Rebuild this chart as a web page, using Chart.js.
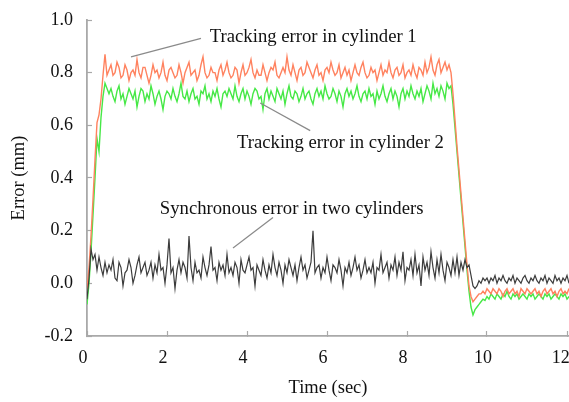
<!DOCTYPE html>
<html>
<head>
<meta charset="utf-8">
<script src="https://cdn.jsdelivr.net/npm/chart.js@4"></script>
<style>
html,body{margin:0;padding:0;background:#fff;overflow:hidden;}
canvas{display:block;}
</style>
</head>
<body>
<canvas id="c" width="569" height="402"></canvas>
<script>
// sampling interval of the recorded signals (s)
const sampleStep = 0.05;
const xTicks = [0, 2, 4, 6, 8, 10, 12];
const yTicks = [-0.2, 0.0, 0.2, 0.4, 0.6, 0.8, 1.0];

// Tracking error in cylinder 1 (mm)
const cyl1 = [
-0.02,0.06,0.18,0.32,0.47,0.61,0.64,0.70,0.79,0.87,0.79,
0.81,0.83,0.79,0.80,0.84,0.82,0.78,0.79,0.83,0.81,
0.77,0.80,0.81,0.79,0.85,0.80,0.78,0.82,0.82,0.79,
0.76,0.79,0.83,0.80,0.81,0.78,0.80,0.84,0.79,0.77,
0.81,0.82,0.80,0.78,0.79,0.83,0.80,0.76,0.80,0.82,
0.84,0.79,0.80,0.81,0.77,0.79,0.83,0.86,0.80,0.78,
0.79,0.82,0.80,0.80,0.77,0.81,0.83,0.79,0.81,0.84,
0.80,0.78,0.79,0.82,0.81,0.76,0.80,0.83,0.79,0.80,
0.82,0.85,0.80,0.78,0.81,0.79,0.79,0.83,0.80,0.77,
0.80,0.82,0.81,0.84,0.79,0.78,0.80,0.82,0.80,0.86,
0.81,0.79,0.83,0.80,0.77,0.81,0.82,0.79,0.80,0.84,
0.82,0.80,0.78,0.81,0.83,0.79,0.80,0.77,0.81,0.82,
0.80,0.84,0.81,0.79,0.80,0.83,0.78,0.80,0.82,0.79,
0.81,0.77,0.80,0.83,0.80,0.79,0.82,0.84,0.80,0.78,
0.79,0.82,0.80,0.81,0.77,0.80,0.83,0.79,0.81,0.80,
0.84,0.80,0.78,0.81,0.82,0.79,0.80,0.83,0.78,0.80,
0.81,0.79,0.83,0.80,0.78,0.82,0.81,0.79,0.84,0.80,
0.82,0.86,0.81,0.79,0.83,0.85,0.80,0.82,0.84,0.81,0.83,0.80,
0.72,0.62,0.52,0.43,0.34,0.25,0.16,0.07,-0.01,-0.05,-0.07,-0.06,-0.05,-0.04,-0.04,-0.03,-0.04,-0.02,
-0.03,-0.04,-0.02,-0.03,-0.04,-0.02,-0.03,-0.05,-0.03,-0.02,
-0.04,-0.03,-0.02,-0.04,-0.03,-0.05,-0.02,-0.03,-0.04,-0.02,
-0.03,-0.04,-0.03,-0.02,-0.04,-0.03,-0.05,-0.03,-0.02,-0.04,
-0.03,-0.02,-0.04,-0.03,-0.05,-0.03,-0.02,-0.04,-0.03,-0.04,-0.02,-0.03
];

// Tracking error in cylinder 2 (mm)
const cyl2 = [
-0.08,0.00,0.12,0.26,0.40,0.55,0.50,0.63,0.71,0.76,0.74,
0.72,0.74,0.71,0.69,0.73,0.75,0.70,0.72,0.68,0.71,
0.74,0.72,0.70,0.73,0.67,0.71,0.74,0.73,0.69,0.72,
0.70,0.75,0.72,0.68,0.71,0.73,0.70,0.66,0.71,0.73,
0.72,0.70,0.74,0.71,0.69,0.72,0.76,0.71,0.70,0.73,
0.69,0.72,0.74,0.70,0.71,0.68,0.73,0.72,0.75,0.70,
0.72,0.69,0.73,0.71,0.74,0.70,0.67,0.72,0.73,0.71,
0.74,0.72,0.70,0.75,0.71,0.69,0.72,0.74,0.70,0.73,
0.71,0.68,0.72,0.74,0.73,0.70,0.71,0.66,0.72,0.74,
0.70,0.73,0.71,0.69,0.74,0.72,0.70,0.73,0.68,0.72,
0.75,0.71,0.70,0.73,0.72,0.69,0.71,0.74,0.70,0.72,
0.73,0.70,0.68,0.72,0.74,0.71,0.73,0.70,0.75,0.72,
0.70,0.71,0.74,0.72,0.69,0.73,0.71,0.67,0.72,0.74,
0.71,0.73,0.70,0.72,0.75,0.71,0.69,0.72,0.73,0.70,
0.74,0.71,0.72,0.68,0.73,0.70,0.72,0.75,0.71,0.69,
0.72,0.74,0.70,0.73,0.71,0.67,0.72,0.74,0.70,0.73,
0.71,0.75,0.72,0.70,0.73,0.71,0.74,0.69,0.72,0.75,
0.73,0.70,0.76,0.72,0.74,0.71,0.75,0.73,0.70,0.76,0.74,0.75,
0.68,0.59,0.50,0.41,0.32,0.23,0.14,0.05,-0.03,-0.09,-0.12,-0.10,-0.09,-0.08,-0.07,-0.06,-0.065,-0.05,
-0.06,-0.04,-0.05,-0.06,-0.04,-0.05,-0.06,-0.04,-0.05,-0.03,
-0.05,-0.06,-0.04,-0.05,-0.04,-0.06,-0.05,-0.04,-0.05,-0.06,
-0.04,-0.05,-0.04,-0.06,-0.05,-0.04,-0.05,-0.06,-0.04,-0.05,
-0.04,-0.06,-0.05,-0.04,-0.05,-0.06,-0.04,-0.05,-0.04,-0.06,-0.05,-0.04
];

// Synchronous error in two cylinders (mm)
const syncErr = [
-0.06,0.02,0.13,0.09,0.11,0.05,0.10,0.06,0.03,0.08,0.04,
0.07,0.05,0.09,0.02,0.01,0.08,0.06,-0.01,0.04,0.05,
0.09,0.06,0.00,0.03,0.07,0.10,0.04,0.06,0.08,0.03,
0.05,0.08,0.02,0.07,0.04,0.11,0.05,0.06,0.00,0.07,
0.17,0.04,0.06,-0.02,0.05,0.09,0.04,0.08,0.06,0.02,
0.18,0.06,0.01,0.08,0.04,0.05,0.02,0.10,0.06,0.03,
0.07,0.14,0.05,0.06,0.01,0.08,0.05,0.07,0.03,0.11,
0.04,0.06,0.03,0.08,0.06,0.00,0.09,0.05,0.04,0.07,
0.10,0.05,0.06,-0.01,0.07,0.05,0.03,0.09,0.05,0.02,
0.07,0.04,0.11,0.06,0.03,0.08,0.05,0.00,0.07,0.04,
0.09,0.06,0.03,0.07,0.01,0.06,0.10,0.05,0.07,0.02,
0.05,0.08,0.20,0.04,0.06,0.07,0.02,0.06,0.04,0.10,
0.05,0.01,0.07,0.06,0.04,0.09,0.05,-0.01,0.06,0.04,
0.08,0.03,0.06,0.10,0.05,0.07,0.02,0.05,0.09,0.04,
0.06,0.04,0.08,0.00,0.06,0.05,0.11,0.04,0.06,0.08,
0.02,0.07,0.05,0.10,0.03,0.08,0.05,0.12,0.01,0.06,
0.05,0.09,0.03,0.11,0.04,0.07,-0.01,0.10,0.05,0.08,
0.03,0.12,0.06,0.02,0.09,0.04,0.11,0.05,0.01,0.08,0.06,0.03,
0.09,0.04,0.10,0.03,0.08,0.05,0.09,0.06,0.07,0.03,-0.01,-0.02,-0.01,0.01,0.00,0.02,0.01,0.02,
0.00,0.02,0.01,0.03,0.00,0.02,0.01,0.03,0.01,0.00,
0.02,0.01,0.03,0.00,0.02,0.01,0.00,0.02,0.03,0.01,
0.00,0.02,0.01,0.03,0.01,0.00,0.02,0.01,0.03,0.00,
0.02,0.01,0.00,0.03,0.01,0.02,0.00,0.02,0.01,0.03,0.00,0.01
];

// annotation texts with anchors in data units
const notes = [
  {text:'Tracking error in cylinder 1', at:[3.07, 0.915], from:[1.1, 0.86], to:[2.85, 0.93]},
  {text:'Tracking error in cylinder 2', at:[3.75, 0.515], from:[4.33, 0.685], to:[5.58, 0.58]},
  {text:'Synchronous error in two cylinders', at:[1.82, 0.265], from:[3.65, 0.134], to:[4.65, 0.25]}
];

const toPts = arr => arr.map((v, i) => ({x: +(i * sampleStep).toFixed(2), y: v}));

const serif = 'Liberation Serif, Times New Roman, serif';
const textColor = '#111';
const axisGray = '#a9a9a9';

const notesPlugin = {
  id: 'notes',
  afterDatasetsDraw(chart) {
    const {ctx, scales: {x, y}} = chart;
    ctx.save();
    ctx.strokeStyle = '#8a8a8a';
    ctx.lineWidth = 1.2;
    ctx.fillStyle = textColor;
    ctx.font = '18.7px ' + serif;
    ctx.textAlign = 'left';
    ctx.textBaseline = 'alphabetic';
    notes.forEach(n => {
      ctx.beginPath();
      ctx.moveTo(x.getPixelForValue(n.from[0]), y.getPixelForValue(n.from[1]));
      ctx.lineTo(x.getPixelForValue(n.to[0]), y.getPixelForValue(n.to[1]));
      ctx.stroke();
      ctx.fillText(n.text, x.getPixelForValue(n.at[0]), y.getPixelForValue(n.at[1]));
    });
    ctx.restore();
  }
};

new Chart(document.getElementById('c'), {
  type: 'line',
  data: {
    datasets: [
      {label: 'Synchronous error in two cylinders', data: toPts(syncErr), borderColor: '#3c3c3c', borderWidth: 1.2},
      {label: 'Tracking error in cylinder 1', data: toPts(cyl1), borderColor: '#ff825f', borderWidth: 1.4},
      {label: 'Tracking error in cylinder 2', data: toPts(cyl2), borderColor: '#46e846', borderWidth: 1.4}
    ]
  },
  options: {
    responsive: false,
    animation: false,
    elements: {point: {radius: 0}, line: {tension: 0}},
    layout: {autoPadding: false, padding: {top: 20, right: 0, bottom: 0, left: 0}},
    plugins: {legend: {display: false}, tooltip: {enabled: false}},
    scales: {
      x: {
        type: 'linear', min: 0, max: 12.05,
        afterFit(s) { s.height = 66; s.paddingLeft = 0; s.paddingRight = 0; },
        afterBuildTicks(s) { s.ticks = xTicks.map(v => ({value: v})); },
        ticks: {font: {family: serif, size: 18}, color: textColor, padding: 16, labelOffset: -4,
                callback: v => (v === 12 ? '12 ' : String(v))},
        grid: {drawOnChartArea: false, tickLength: -5, tickColor: axisGray, tickWidth: 1.2},
        border: {color: axisGray, width: 1.8},
        title: {display: true, text: 'Time (sec)', font: {family: serif, size: 18.5}, color: textColor, padding: {top: 0, bottom: 3}}
      },
      y: {
        min: -0.2, max: 1.0,
        afterFit(s) { s.width = 87; s.paddingTop = 0; s.paddingBottom = 0; },
        afterBuildTicks(s) { s.ticks = yTicks.map(v => ({value: v})); },
        ticks: {font: {family: serif, size: 18}, color: textColor, padding: 19, callback: v => Number(v).toFixed(1)},
        grid: {drawOnChartArea: false, tickLength: -5, tickColor: axisGray, tickWidth: 1.2},
        border: {color: axisGray, width: 1.8},
        title: {display: true, text: 'Error (mm)', font: {family: serif, size: 18.5}, color: textColor, padding: {top: 8, bottom: 0}}
      }
    }
  },
  plugins: [notesPlugin]
});
</script>
</body>
</html>
